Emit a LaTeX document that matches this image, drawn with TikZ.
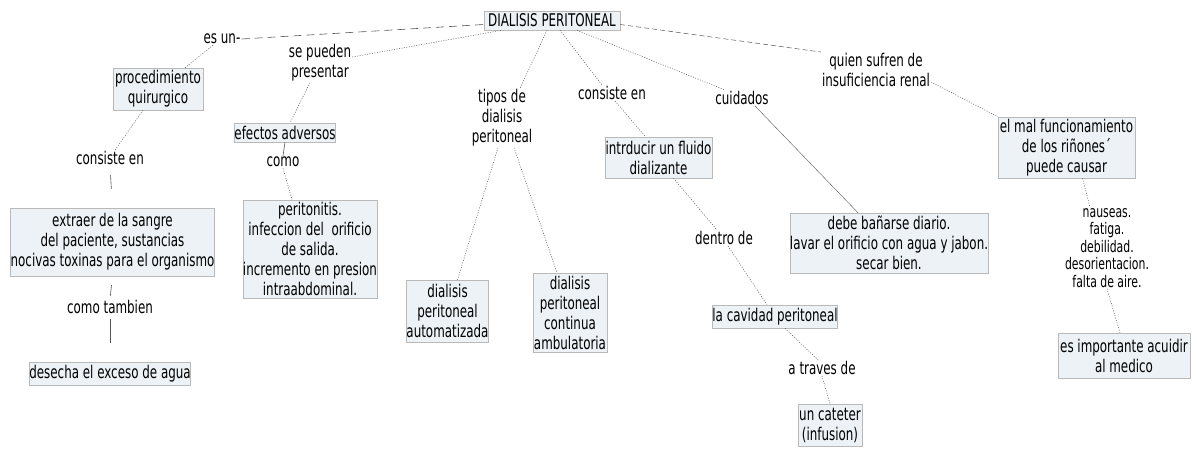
\documentclass[tikz,border=0pt]{standalone}
\usepackage{fontspec}
\setmainfont{DejaVu Sans}[FakeStretch=0.68]
\usetikzlibrary{calc}
\definecolor{boxfill}{RGB}{236,242,245}
\definecolor{edge}{RGB}{85,85,85}
\begin{document}
\begin{tikzpicture}[x=1pt,y=-1pt,
 lbl/.style={align=center,font=\fontsize{17.5}{20}\selectfont,inner sep=1pt},
 cbox/.style={lbl,fill=boxfill,draw=gray!55,line width=0.5pt,inner sep=0pt},
 dotl/.style={draw=edge,line width=0.5pt,dash pattern=on 1pt off 1.5pt},
 soll/.style={draw=edge,line width=0.6pt},
 dashl/.style={draw=edge,line width=0.6pt,dash pattern=on 8pt off 5pt},
 dashs/.style={draw=edge,line width=0.5pt,dash pattern=on 5pt off 3pt},
]
\useasboundingbox (0,0) rectangle (1197,451);
\fill[white] (0,0) rectangle (1197,451);

% boxes
\node[cbox,minimum width=136pt,minimum height=19pt] (title) at (552,20.5) {DIALISIS PERITONEAL};
\node[cbox,minimum width=90pt,minimum height=42pt] (proc) at (158,89) {procedimiento\\quirurgico};
\node[cbox,minimum width=100pt,minimum height=19pt] (efec) at (285,132.5) {efectos adversos};
\node[cbox,minimum width=201pt,minimum height=68pt] (extr) at (112.5,242) {extraer de la sangre\\del paciente, sustancias\\nocivas toxinas para el organismo};
\node[cbox,minimum width=160pt,minimum height=23pt] (dese) at (110,373.5) {desecha el exceso de agua};
\node[cbox,minimum width=134pt,minimum height=98pt] (peri) at (310,249) {peritonitis.\\infeccion del\ \ orificio\\de salida.\\incremento en presion\\intraabdominal.};
\node[cbox,minimum width=81pt,minimum height=62pt] (auto) at (447.5,311) {dialisis\\peritoneal\\automatizada};
\node[cbox,minimum width=74pt,minimum height=79pt] (cont) at (570,312.5) {dialisis\\peritoneal\\continua\\ambulatoria};
\node[cbox,minimum width=107pt,minimum height=41pt] (intr) at (658.5,157.5) {intrducir un fluido\\dializante};
\node[cbox,minimum width=124pt,minimum height=23pt] (cav) at (775,316.5) {la cavidad peritoneal};
\node[cbox,minimum width=64pt,minimum height=42pt] (cat) at (830,425) {un cateter\\(infusion)};
\node[cbox,minimum width=198pt,minimum height=60pt] (debe) at (889,243) {debe bañarse diario.\\lavar el orificio con agua y jabon.\\secar bien.};
\node[cbox,minimum width=137pt,minimum height=61pt] (mal) at (1066.5,147.5) {el mal funcionamiento\\de los riñones´\\puede causar};
\node[cbox,minimum width=132pt,minimum height=45pt] (imp) at (1124,355.5) {es importante acuidir\\al medico};

% labels
\node[lbl] (esun) at (222,39) {es un-};
\node[lbl] (sep) at (320,63) {se pueden\\presentar};
\node[lbl] (cons1) at (110,158) {consiste en};
\node[lbl] (como) at (283,162) {como};
\node[lbl] (ctam) at (110,307) {como tambien};
\node[lbl] (tipos) at (502,118) {tipos de\\dialisis\\peritoneal};
\node[lbl] (cons2) at (612,93) {consiste en};
\node[lbl] (cuid) at (742,98) {cuidados};
\node[lbl] (dentro) at (724,238) {dentro de};
\node[lbl] (atr) at (822,368) {a traves de};
\node[lbl] (quien) at (876,70) {quien sufren de\\insuficiencia renal};
\node[lbl,font=\fontsize{16}{17.5}\selectfont] (naus) at (1107,248) {nauseas.\\fatiga.\\debilidad.\\desorientacion.\\falta de aire.};

% connectors
\draw[dashl] (esun.east) -- ($(title.west)+(0,4)$);
\draw[dotl] ($(esun.south)+(-9,0)$) -- ($(proc.north)+(27,0)$);
\draw[dotl] ($(sep.east)+(0,-6)$) -- ($(title.south west)+(18,0)$);
\draw[dotl] ($(sep.south)+(-10,0)$) -- ($(efec.north)+(5,0)$);
\draw[dotl] ($(proc.south)+(-15,0)$) -- ($(cons1.north)+(5,0)$);
\draw[soll,shorten <=9pt,shorten >=19pt] (cons1.south) -- (extr.north);
\draw[soll,shorten <=9pt,shorten >=3pt] (extr.south) -- (ctam.north);
\draw[soll,shorten <=4pt,shorten >=19pt] (ctam.south) -- (dese.north);
\draw[soll] (efec.south) -- (como.north);
\draw[dotl] (como.south) -- ($(peri.north)+(-18,0)$);
\draw[dotl] ($(title.south)+(-5,0)$) -- ($(tipos.north)+(18,0)$);
\draw[dotl] ($(tipos.south)+(-4,0)$) -- ($(auto.north)+(10,0)$);
\draw[dotl] ($(tipos.south)+(12,0)$) -- ($(cont.north)+(-13,0)$);
\draw[dotl] ($(title.south)+(8,0)$) -- ($(cons2.north)+(-10,0)$);
\draw[dotl] ($(cons2.south)+(3,0)$) -- ($(intr.north)+(-13,0)$);
\draw[dotl] ($(title.south)+(25,0)$) -- ($(cuid.north)+(-17,0)$);
\draw[draw=edge,line width=0.4pt] ($(cuid.south)+(13,0)$) -- ($(debe.north)+(-31,0)$);
\draw[dashs] ($(title.east)+(0,4)$) -- (quien.north west);
\draw[dotl] ($(quien.east)+(0,12)$) -- (mal.north west);
\draw[dotl] ($(intr.south)+(15,0)$) -- ($(dentro.north)+(-7,0)$);
\draw[dotl] ($(dentro.south)+(4,0)$) -- ($(cav.north)+(-8,0)$);
\draw[dotl] ($(cav.south)+(10,0)$) -- ($(atr.north)+(-4,0)$);
\draw[dotl] (atr.south) -- (cat.north);
\draw[dotl] ($(mal.south)+(16,0)$) -- ($(naus.north)+(-17,0)$);
\draw[dotl] (naus.south) -- ($(imp.north)+(-4,0)$);
\end{tikzpicture}
\end{document}
